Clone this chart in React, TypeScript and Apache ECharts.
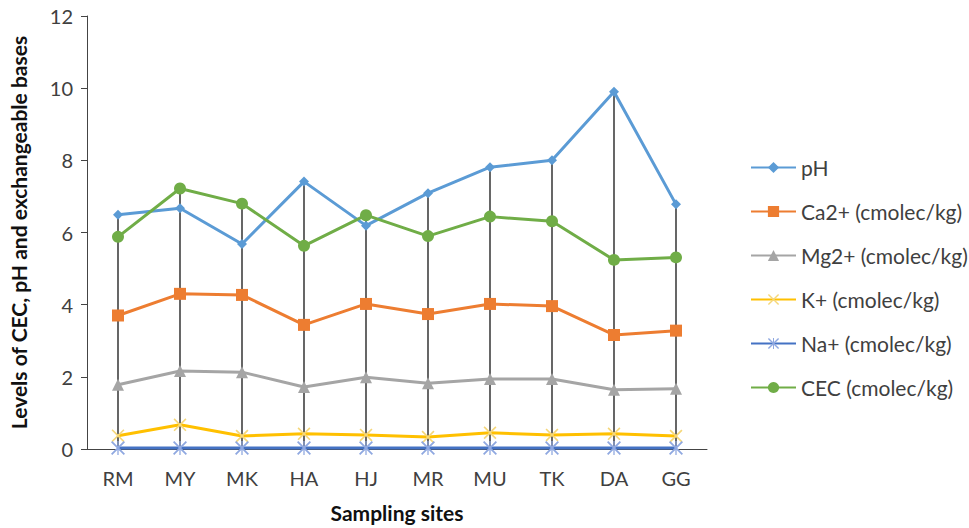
import React, { useEffect, useRef } from "react";
import * as echarts from "echarts";

const categories = ["RM", "MY", "MK", "HA", "HJ", "MR", "MU", "TK", "DA", "GG"];
const pH = [6.49, 6.67, 5.68, 7.41, 6.19, 7.09, 7.81, 8.0, 9.9, 6.78];
const ca = [3.7, 4.3, 4.27, 3.44, 4.02, 3.74, 4.02, 3.96, 3.16, 3.28];
const mg = [1.78, 2.16, 2.13, 1.72, 1.99, 1.82, 1.94, 1.94, 1.64, 1.67];
const k = [0.37, 0.67, 0.36, 0.42, 0.39, 0.33, 0.45, 0.39, 0.42, 0.36];
const na = [0.03, 0.03, 0.03, 0.03, 0.03, 0.03, 0.03, 0.03, 0.03, 0.03];
const cec = [5.88, 7.22, 6.8, 5.63, 6.48, 5.9, 6.44, 6.31, 5.24, 5.31];
const yTicks = [0, 2, 4, 6, 8, 10, 12];

const seriesNames = [
  "pH",
  "Ca2+ (cmolec/kg)",
  "Mg2+ (cmolec/kg)",
  "K+ (cmolec/kg)",
  "Na+ (cmolec/kg)",
  "CEC (cmolec/kg)",
];

const X_PATH =
  "path://M0,0.9 L0.9,0 L5,4.1 L9.1,0 L10,0.9 L5.9,5 L10,9.1 L9.1,10 L5,5.9 L0.9,10 L0,9.1 L4.1,5 Z";
const STAR_PATH =
  "path://M0,0.9 L0.9,0 L5,4.1 L9.1,0 L10,0.9 L5.9,5 L10,9.1 L9.1,10 L5,5.9 L0.9,10 L0,9.1 L4.1,5 Z M4.55,0 L5.45,0 L5.45,10 L4.55,10 Z";

export default function App() {
  const ref = useRef<HTMLDivElement>(null);
  useEffect(() => {
    if (!ref.current) return;
    const chart = echarts.init(ref.current, undefined, { renderer: "svg" });
    const all = [pH, ca, mg, k, na, cec];
    const dropMax = categories.map((_, i) => Math.max(...all.map((a) => a[i])));
    const font = "Lato, 'Open Sans', sans-serif";
    const mk = (
      name: string,
      data: number[],
      color: string,
      symbol: string,
      size: number,
      symColor?: string
    ) => ({
      name,
      type: "line",
      data,
      symbol,
      symbolSize: size,
      lineStyle: { color, width: 3 },
      itemStyle: { color: symColor || color },
      z: 3,
    });
    chart.setOption({
      animation: false,
      backgroundColor: "#fff",
      textStyle: { fontFamily: font },
      grid: { left: 87, top: 16, width: 620, height: 433 },
      legend: {
        data: seriesNames,
        orient: "vertical",
        left: 745,
        top: 152,
        itemWidth: 45,
        itemHeight: 14,
        itemGap: 23,
        textStyle: { fontSize: 21, color: "#404040", fontFamily: font },
      },
      xAxis: {
        type: "category",
        data: categories,
        boundaryGap: true,
        name: "Sampling sites",
        nameLocation: "middle",
        nameGap: 53,
        nameTextStyle: { fontSize: 21, fontWeight: "bold", color: "#111" },
        axisLine: { lineStyle: { color: "#444", width: 1 } },
        axisTick: { show: false },
        axisLabel: { fontSize: 20, color: "#404040", margin: 19 },
      },
      yAxis: {
        type: "value",
        min: yTicks[0],
        max: yTicks[yTicks.length - 1],
        interval: 2,
        name: "Levels of CEC, pH and exchangeable bases",
        nameLocation: "middle",
        nameRotate: 90,
        nameGap: 58,
        nameTextStyle: { fontSize: 21, fontWeight: "bold", color: "#111" },
        axisLine: { show: true, lineStyle: { color: "#444", width: 1 } },
        axisTick: { show: true, length: 6, lineStyle: { color: "#444" } },
        splitLine: { show: false },
        axisLabel: { fontSize: 20, color: "#404040", margin: 14 },
      },
      series: [
        {
          name: "drop",
          type: "bar",
          data: dropMax,
          barWidth: 1.2,
          itemStyle: { color: "#000" },
          z: 1,
          silent: true,
        },
        mk(seriesNames[0], pH, "#5B9BD5", "diamond", 10),
        mk(seriesNames[1], ca, "#ED7D31", "rect", 12),
        mk(seriesNames[2], mg, "#A5A5A5", "triangle", 12),
        mk(seriesNames[3], k, "#FFC000", X_PATH, 13, "#F5D77A"),
        mk(seriesNames[4], na, "#4472C4", STAR_PATH, 14, "#8FA8E0"),
        mk(seriesNames[5], cec, "#70AD47", "circle", 12),
      ],
    });
    return () => chart.dispose();
  }, []);
  return (
    <div
      ref={ref}
      style={{ position: "absolute", left: 0, top: 0, width: 969, height: 528 }}
    />
  );
}
